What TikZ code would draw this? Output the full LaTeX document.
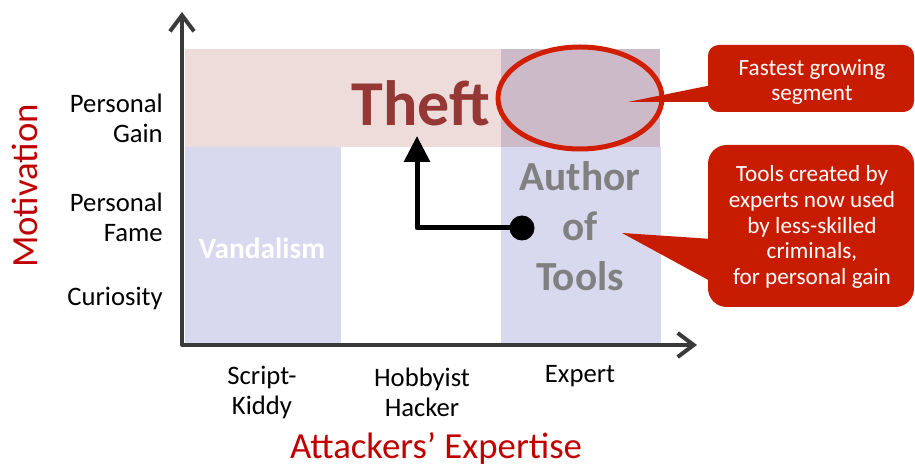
\documentclass[tikz,border=0pt]{standalone}
\usepackage{fontspec}
\setmainfont{Carlito}
\usetikzlibrary{arrows.meta}
\definecolor{pinkband}{RGB}{238,220,219}
\definecolor{overlapc}{RGB}{204,186,201}
\definecolor{lavender}{RGB}{216,216,238}
\definecolor{axisgray}{RGB}{58,58,58}
\definecolor{theftred}{RGB}{149,55,53}
\definecolor{calloutred}{RGB}{200,28,0}
\definecolor{ellred}{RGB}{210,30,0}
\definecolor{titlered}{RGB}{192,0,0}
\definecolor{authorgray}{RGB}{128,128,128}
\tikzset{
  axislabel/.style={font=\fontsize{20pt}{22.5pt}\selectfont, text=black, align=center, inner sep=0pt},
  leftlabel/.style={axislabel, align=right, anchor=east},
  bigtitle/.style={font=\fontsize{27.6pt}{32pt}\selectfont, text=titlered, inner sep=0pt},
  calloutbox/.style={rectangle, fill=calloutred, inner sep=0pt, minimum width=154.5pt},
  callouttext/.style={text=white, align=center, inner sep=0pt,
    font=\fontsize{17.4pt}{19.3pt}\selectfont},
  axisline/.style={draw=axisgray, line width=3pt, line cap=round, line join=round},
}
\begin{document}
\begin{tikzpicture}[x=0.75pt,y=-0.75pt]
\useasboundingbox (0,0) rectangle (915,466);
% regions
\fill[pinkband] (185,49) rectangle (501,147);
\fill[overlapc] (501,49) rectangle (660,147);
\fill[lavender] (185,147) rectangle (341,345);
\fill[lavender] (501,147) rectangle (661,345);
% axes
\draw[axisline, {Straight Barb[length=12pt,width=18pt,line width=3pt]}-{Straight Barb[length=12pt,width=18pt,line width=3pt]}]
  (182,12) -- (182,345) -- (697,345);
% region texts
\node[font=\bfseries\fontsize{48pt}{50pt}\selectfont, text=theftred, inner sep=0pt] (theft) at (421,103) {Theft};
\node[font=\bfseries\fontsize{22pt}{26pt}\selectfont, text=white, inner sep=0pt] (vandal) at (262,248) {Vandalism};
\node[font=\bfseries\fontsize{31pt}{37.5pt}\selectfont, text=authorgray, align=center, inner sep=0pt] (author) at (580,226) {Author\\of\\Tools};
% ellipse
\draw[ellred, line width=3.75pt] (580,98) ellipse [x radius=82, y radius=51];
\coordinate (ellc) at (580,98);
% arrow
\coordinate (dotc) at (522,228);
\coordinate (arrtip) at (417,136);
\draw[line width=3.75pt, line join=round, -{Triangle[length=19.5pt,width=19pt]}] (dotc) -| (arrtip);
\node[circle, fill=black, minimum size=18.75pt, inner sep=0pt] (dot) at (dotc) {};
% callouts
\node[calloutbox, minimum height=50.25pt, rounded corners=8pt] (c1) at (811,78.5) {};
\node[callouttext] (c1t) at (812,82) {Fastest growing\\segment};
\node[calloutbox, minimum height=121.5pt, rounded corners=14pt] (c2) at (811,226) {};
\node[callouttext] (c2t) at (812,227) {Tools created by\\experts now used\\by less-skilled\\criminals,\\for personal gain};
\coordinate (tip1) at (628,102);
\coordinate (tip2) at (622,233);
\fill[calloutred] (712,85) -- (tip1) -- (712,102) -- cycle;
\fill[calloutred] (712,239) -- (tip2) -- (712,282) -- cycle;
% axis labels
\node[leftlabel] (gain) at (163,118) {Personal\\Gain};
\node[leftlabel] (fame) at (163,217) {Personal\\Fame};
\node[leftlabel] (curio) at (163,298) {Curiosity};
\node[axislabel] (script) at (262,392) {Script-\\Kiddy};
\node[axislabel] (hobby) at (422,392) {Hobbyist\\Hacker};
\node[axislabel, anchor=base] (expert) at (580,383) {Expert};
\node[bigtitle] (xtitle) at (436,448) {Attackers’ Expertise};
\node[bigtitle, rotate=90] (ytitle) at (25,186) {Motivation};
\end{tikzpicture}
\end{document}
